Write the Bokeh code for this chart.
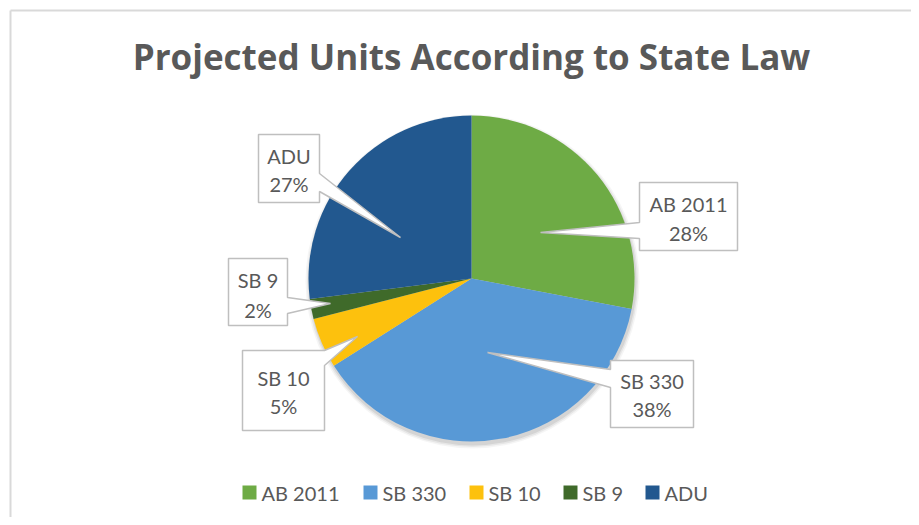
import numpy as np
from bokeh.plotting import figure
from bokeh.models import Range1d
from bokeh.core.properties import value
from bokeh.embed import file_html
from bokeh.resources import INLINE

# ---- data ----
title_text = "Projected Units According to State Law"
categories = ["AB 2011", "SB 330", "SB 10", "SB 9", "ADU"]
shares = [28, 38, 5, 2, 27]
colors = ["#6eab45", "#5899d6", "#fdc10d", "#3f6a2a", "#22588f"]

W, H = 911, 517
TXT = "#595959"
FONT = value("Lato")


def X(px):
    return px


def Y(py):
    return H - py


p = figure(width=W, height=H, output_backend="svg", toolbar_location=None,
           x_range=Range1d(0, W), y_range=Range1d(0, H), min_border=0)
p.axis.visible = False
p.grid.visible = False
p.outline_line_color = None
p.background_fill_color = "white"
p.border_fill_color = "white"

# chart-area border (top and left edges visible)
p.segment(x0=[X(10), X(10)], y0=[Y(10), Y(10)], x1=[X(930), X(10)], y1=[Y(10), Y(540)],
          line_color="#d9d9d9", line_width=2)

# title
p.text(x=[X(471)], y=[Y(56)], text=[title_text], text_font=value("Open Sans"),
       text_font_size="35px", text_font_style="bold", text_color=TXT,
       text_align="center", text_baseline="alphabetic")

# pie
cx, cy, r = X(471), Y(278), 163
vals = np.array(shares, dtype=float)
frac = vals / vals.sum()
cum_end = np.cumsum(frac)
cum_start = cum_end - frac
start = np.pi / 2 - 2 * np.pi * cum_end
end = np.pi / 2 - 2 * np.pi * cum_start

# soft shadow
for rr, a in [(r + 4, 0.04), (r + 2.5, 0.06), (r + 1, 0.08)]:
    p.circle(x=[cx + 1], y=[cy - 3], radius=rr, fill_color="black", fill_alpha=a,
             line_color=None)

p.wedge(x=cx, y=cy, radius=r, start_angle=start, end_angle=end,
        direction="anticlock", fill_color=colors, line_color=None)

# callouts: box (left, top, right, bottom), pointer base side, base pair, tip
callouts = [
    # AB 2011
    dict(box=(639, 182, 737, 250), side="left", base=(222, 238), tip=(540, 232),
         lines=(203, 232)),
    # SB 330
    dict(box=(610, 360, 693, 427), side="left", base=(369, 387), tip=(487, 352),
         lines=(380, 408)),
    # SB 10
    dict(box=(242, 350, 324, 430), side="right", base=(350, 365), tip=(357, 336),
         lines=(377, 405)),
    # SB 9
    dict(box=(228, 258, 287, 325), side="right", base=(297, 313), tip=(330, 303),
         lines=(279, 309)),
    # ADU
    dict(box=(258, 134, 319, 202), side="right", base=(173, 191), tip=(400, 237),
         lines=(155, 183)),
]

xs_list, ys_list = [], []
for c in callouts:
    l, t, rt, b = c["box"]
    b0, b1 = c["base"]
    tx, ty = c["tip"]
    if c["side"] == "left":
        pts = [(l, t), (rt, t), (rt, b), (l, b), (l, b1), (tx, ty), (l, b0)]
    else:
        pts = [(l, t), (rt, t), (rt, b0), (tx, ty), (rt, b1), (rt, b), (l, b)]
    xs_list.append([X(px) for px, _ in pts])
    ys_list.append([Y(py) for _, py in pts])

p.patches(xs=xs_list, ys=ys_list, fill_color="white", line_color="#bfbfbf",
          line_width=1.5)

pcts = [f"{round(f * 100)}%" for f in frac]
lab_x, lab_y, lab_t = [], [], []
for c, name, pc in zip(callouts, categories, pcts):
    l, t, rt, b = c["box"]
    mx = (l + rt) / 2
    lab_x += [X(mx), X(mx)]
    lab_y += [Y(c["lines"][0]), Y(c["lines"][1])]
    lab_t += [name, pc]
p.text(x=lab_x, y=lab_y, text=lab_t, text_font=FONT, text_font_size="20px",
       text_color=TXT, text_align="center", text_baseline="middle")

# legend
leg_sq_x = [249, 370, 476, 570, 652]
leg_y = 492
p.scatter(x=[X(v) for v in leg_sq_x], y=[Y(leg_y)] * len(categories), marker="square",
          size=14, fill_color=colors, line_color=None)
p.text(x=[X(v + 12) for v in leg_sq_x], y=[Y(leg_y)] * len(categories), text=categories,
       text_font=FONT, text_font_size="20px", text_color=TXT,
       text_align="left", text_baseline="middle")

open("out.html", "w").write(file_html(p, INLINE))
